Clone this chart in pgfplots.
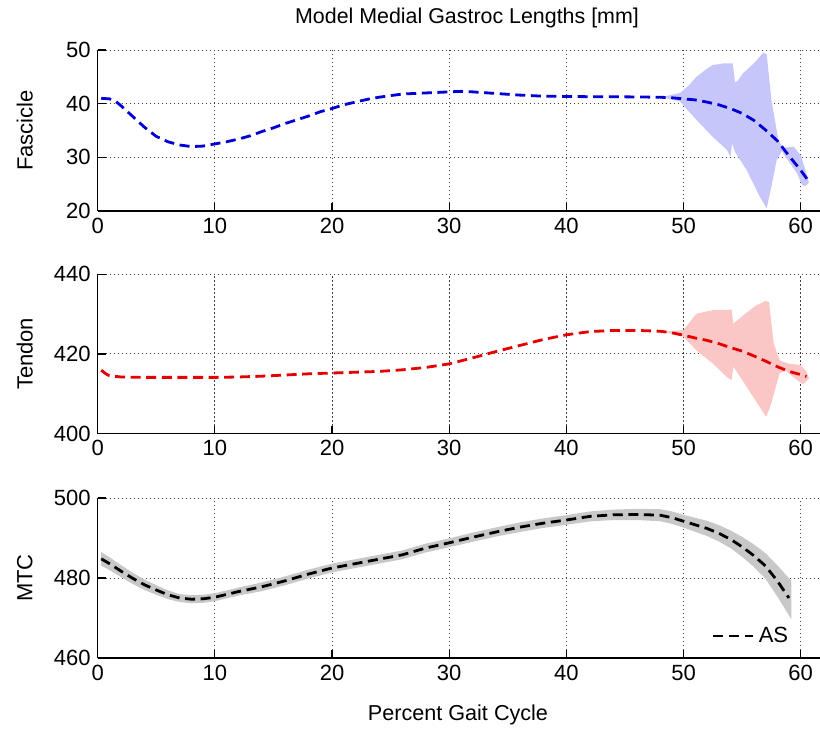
\documentclass[border=0pt]{standalone}
\usepackage{pgfplots}
\pgfplotsset{compat=1.18}
\usepackage{fontspec}
\setmainfont{Liberation Sans}
\definecolor{lineblue}{RGB}{0,0,215}
\definecolor{linered}{RGB}{228,0,0}
\definecolor{bandblue}{RGB}{198,198,250}
\definecolor{bandred}{RGB}{250,198,198}
\definecolor{bandgray}{RGB}{200,200,200}
\pgfplotsset{
  myaxis/.style={
    scale only axis,
    width=361.15pt,
    xmin=0, xmax=61.65,
    xtick={0,10,20,30,40,50,60},
    axis lines=left,
    axis line style={-, black, line width=0.6pt},
    tick align=inside,
    major tick length=4pt,
    tick style={black, line width=0.6pt},
    grid=major,
    major grid style={black!75, line width=0.5pt, dash pattern=on 0.6pt off 1.4pt},
    tick label style={font=\fontsize{11}{13}\selectfont},
    /pgf/number format/assume math mode=true,
    every axis y label/.style={at={(axis description cs:-0.101,0.5)}, rotate=90, anchor=center, font=\fontsize{11}{13}\selectfont},
    anchor=south west,
  },
  dline/.style={line width=1.4pt, dash pattern=on 5pt off 2.8pt},
}
\begin{document}
\begin{tikzpicture}
\path[use as bounding box] (0,0) rectangle (410pt,-365pt);
\node[font=\fontsize{10.7}{13}\selectfont] at (233.5pt,-9pt) {Model Medial Gastroc Lengths [mm]};
\node[font=\fontsize{10.8}{13}\selectfont] at (229pt,-357.5pt) {Percent Gait Cycle};

% Fascicle
\begin{axis}[myaxis, at={(48.85pt,-105.5pt)}, height=80.5pt,
  ymin=20, ymax=50, ytick={20,30,40,50}, ylabel={Fascicle}]
\addplot[fill=bandblue, draw=none] coordinates {
(47.5,41.25) (48.5,41.4) (49.7,42.0) (50.5,43.5) (51.1,45.0) (52.0,46.5) (52.5,47.2)
(53.4,47.5) (54.2,47.5) (54.4,44.0) (54.6,44.2) (55.1,45.7) (56.0,47.5) (56.8,49.5)
(57.1,49.2) (57.5,40.7) (58.1,33.2) (58.5,31.8) (58.7,31.8) (59.4,32.0) (60.0,30.4)
(60.5,27.0) (60.7,25.3)
(60.4,24.6) (60.1,24.9) (59.7,27.0) (58.9,29.5) (58.5,30.8) (58.4,31.2) (57.95,29.5)
(57.5,24.5) (57.1,20.5) (56.5,22.7) (55.4,27.6) (54.4,31.0) (54.15,32.6) (54.0,30.1)
(53.7,31.4) (52.5,33.8) (51.1,37.0) (49.7,40.4) (48.5,41.0) (47.5,41.2)
} -- cycle;
\addplot[lineblue, dline] coordinates {
(0.3,41.0) (1.0,40.9) (1.5,40.5) (2,39.6) (3,37.6) (4,35.6) (5,33.9) (6,32.9) (7,32.3)
(8,32.0) (9,32.1) (10,32.5) (11,32.9) (12,33.4) (13,34.0) (14,34.8) (15,35.5) (16,36.3)
(17,37.0) (18,37.7) (19,38.5) (20,39.1) (21,39.8) (22,40.3) (23,40.8) (24,41.2) (25,41.5)
(26,41.8) (28,42.0) (30,42.2) (31,42.3) (32,42.2) (34,41.9) (36,41.6) (38,41.4) (40,41.35)
(42,41.3) (44,41.3) (46,41.25) (48,41.2) (49,41.1) (50,40.9) (51,40.7) (52,40.3) (53,39.8)
(54,39.1) (55,38.2) (56,36.9) (57,35.1) (58,33.1) (59,30.3) (60,27.6) (60.6,25.8)
};
\end{axis}

% Tendon
\begin{axis}[myaxis, at={(48.85pt,-216.75pt)}, height=79.6pt,
  ymin=400, ymax=440, ytick={400,420,440}, ylabel={Tendon}]
\addplot[fill=bandred, draw=none] coordinates {
(48.5,425.6) (50.0,426.0) (51.1,430.1) (52.5,431.0) (53.7,431.0) (54.1,431.2) (54.25,427.6)
(55.1,429.7) (56.2,432.2) (57.0,433.3) (57.3,433.0) (57.7,422.6) (58.2,418.4) (58.9,417.6)
(60.0,417.2) (60.5,415.5) (60.7,414.0)
(60.65,413.6) (60.2,412.4) (59.7,413.4) (58.7,415.8) (58.2,415.1) (57.4,406.7) (57.05,404.2)
(56.5,406.7) (55.4,411.7) (54.25,416.8) (54.1,413.4) (53.7,414.2) (52.5,417.6) (51.1,420.9)
(50.0,424.3) (48.5,425.4)
} -- cycle;
\addplot[linered, dline] coordinates {
(0.3,415.9) (0.7,415.0) (1.0,414.5) (2,414.2) (4,414.1) (6,414.1) (8,414.1) (10,414.1)
(12,414.2) (14,414.4) (16,414.7) (18,415.0) (20,415.2) (22,415.4) (24,415.6) (26,416.0)
(28,416.6) (30,417.5) (32,419.0) (34,420.6) (36,422.1) (38,423.6) (40,424.8) (42,425.6)
(44,425.9) (46,425.9) (48,425.7) (49,425.3) (50,424.7) (51,424.0) (52,423.4) (53,422.6)
(54,421.6) (55,420.7) (56,419.5) (57,418.2) (58,416.8) (59,415.6) (60,414.8) (60.5,414.3)
};
\end{axis}

% MTC
\begin{axis}[myaxis, at={(48.85pt,-329pt)}, height=80pt,
  ymin=460, ymax=500, ytick={460,480,500}, ylabel={MTC},
  legend style={draw=none, fill=none, at={(0.962,0.1375)}, anchor=east,
    font=\fontsize{11}{13}\selectfont, inner sep=0pt},
  legend cell align=left,
  legend image code/.code={\draw[#1] (0pt,0pt) -- (20pt,0pt);}]
\addplot[fill=bandgray, draw=none, forget plot] coordinates {
(0.3,486.5) (1,485.2) (2,483.2) (3,481.3) (4,479.6) (5,478.2) (6,476.9) (7,476.0) (8,475.7)
(9,475.8) (10,476.2) (11,476.9) (12,477.6) (14,478.9) (16,480.4) (18,482.1) (20,483.6)
(22,484.7) (24,485.8) (26,486.9) (28,488.6) (30,489.9) (32,491.35) (34,492.65) (36,493.9)
(38,494.9) (40,495.7) (42,496.65) (44,497.1) (46,497.3) (48,497.2) (49,496.65) (50,495.8)
(51,495.05) (52,494.3) (53,493.25) (54,491.9) (55,490.3) (56,488.4) (57,486.2) (58,483.2)
(59.2,479.3)
(59.2,469.7) (58,475.4) (57,479.8) (56,482.8) (55,485.3) (54,487.5) (53,489.15) (52,490.5)
(51,491.55) (50,492.6) (49,493.55) (48,494.2) (46,494.5) (44,494.5) (42,494.15) (40,493.3)
(38,492.5) (36,491.5) (34,490.35) (32,489.05) (30,487.7) (28,486.4) (26,484.7) (24,483.6)
(22,482.5) (20,481.4) (18,479.9) (16,478.2) (14,476.7) (12,475.6) (11,474.9) (10,474.2)
(9,473.8) (8,473.7) (7,474.0) (6,474.7) (5,475.8) (4,477.0) (3,478.5) (2,480.2) (1,482.0)
(0.3,483.1)
} -- cycle;
\addplot[black, dline] coordinates {
(0.3,484.8) (1,483.6) (2,481.7) (3,479.9) (4,478.3) (5,477.0) (6,475.8) (7,475.0) (8,474.7)
(9,474.8) (10,475.2) (11,475.9) (12,476.6) (14,477.8) (16,479.3) (18,481.0) (20,482.5)
(22,483.6) (24,484.7) (26,485.8) (28,487.5) (30,488.8) (32,490.2) (34,491.5) (36,492.7)
(38,493.7) (40,494.5) (42,495.4) (44,495.8) (46,495.9) (48,495.7) (49,495.1) (50,494.2)
(51,493.3) (52,492.4) (53,491.2) (54,489.7) (55,487.8) (56,485.6) (57,483.0) (58,479.3)
(59,475.0)
};
\addlegendentry{AS}
\end{axis}
\end{tikzpicture}
\end{document}
